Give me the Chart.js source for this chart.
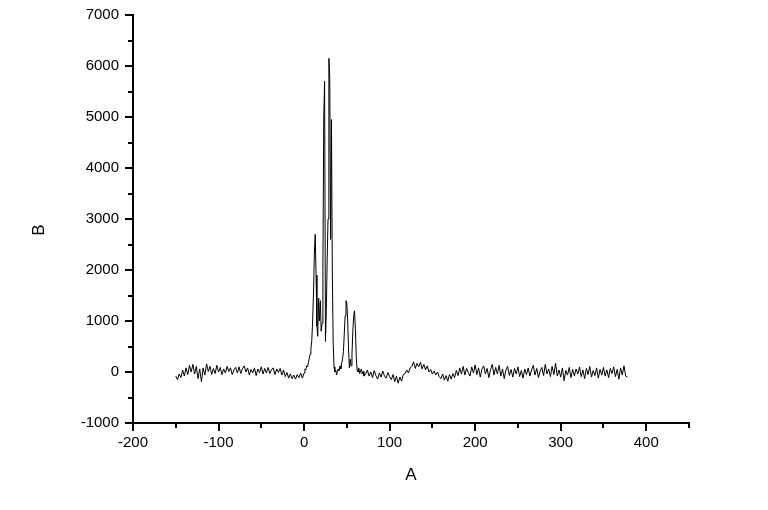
<!DOCTYPE html>
<html>
<head>
<meta charset="utf-8">
<script src="https://cdn.jsdelivr.net/npm/chart.js@4/dist/chart.umd.min.js"></script>
<style>
  html, body { margin: 0; padding: 0; background: #fff; }
  #myChart { display: block; }
</style>
</head>
<body>
<canvas id="myChart" width="768" height="510"></canvas>
<script>
// sampled spectrum, left side (-150 .. -2)
const xLeft = [
  -150,-148,-146,-144,-142,-140,-138,-136,-134,-132,-130,-128,-126,-124,-122,
  -120,-118,-116,-114,-112,-110,-108,-106,-104,-102,-100,-98,-96,-94,-92,
  -90,-88,-86,-84,-82,-80,-78,-76,-74,-72,-70,-68,-66,-64,-62,
  -60,-58,-56,-54,-52,-50,-48,-46,-44,-42,-40,-38,-36,-34,-32,
  -30,-28,-26,-24,-22,-20,-18,-16,-14,-12,-10,-8,-6,-4,-2
];
const bLeft = [
  -80,-150,-40,-110,40,-80,80,-50,130,0,150,-40,110,-130,60,
  -190,80,-60,160,10,110,-50,70,-30,130,0,90,-50,60,-20,
  110,10,80,-50,40,90,-20,100,-30,70,120,0,80,-60,50,
  -20,80,-70,60,-10,100,-40,70,-20,90,-30,50,80,-50,60,
  -10,70,-60,40,-90,-10,-120,-40,-130,-60,-140,-50,-110,-20,-120
];

// peak region (0 .. 70)
const xPeak = [
  0,1,2,3,4,5,6,7,8,9,10,11,12,13,14,15,16,17,18,19,20,
  21,22,23,24,25,26,27,28,29,30,31,32,33,34,35,36,37,38,39,40,
  41,42,43,44,45,46,47,48,49,50,51,52,53,54,55,56,57,58,59,60,
  61,62,63,64,65,66,67,68,69,70
];
const bPeak = [
  -20,60,40,120,100,180,260,350,450,620,1000,1550,2300,2700,1900,900,700,1450,1000,1400,800,
  950,2050,5000,5700,600,1200,2200,3000,6150,5800,2600,4950,2000,600,100,0,40,-60,20,60,
  20,120,60,180,260,400,750,1100,1400,1350,1000,450,80,250,120,350,800,1100,1200,850,
  300,40,0,80,-30,20,60,-40,10,-80
];

// right side (72 .. 378)
const xRight = [
  72,74,76,78,80,82,84,86,88,90,92,94,96,98,100,102,104,106,108,110,
  112,114,116,118,120,122,124,126,128,130,132,134,136,138,140,142,144,146,148,150,
  152,154,156,158,160,162,164,166,168,170,172,174,176,178,180,182,184,186,188,190,
  192,194,196,198,200,202,204,206,208,210,212,214,216,218,220,222,224,226,228,230,
  232,234,236,238,240,242,244,246,248,250,252,254,256,258,260,262,264,266,268,270,
  272,274,276,278,280,282,284,286,288,290,292,294,296,298,300,302,304,306,308,310,
  312,314,316,318,320,322,324,326,328,330,332,334,336,338,340,342,344,346,348,350,
  352,354,356,358,360,362,364,366,368,370,372,374,376,378
];
const bRight = [
  -40,40,-80,0,-110,30,-70,-140,-20,-100,20,-80,-120,-10,-90,-150,-50,-190,-80,-220,
  -100,-180,-50,-30,40,-20,80,110,200,70,170,100,190,60,150,40,120,0,50,-40,
  20,-60,0,-90,-130,-40,-160,-70,-180,-50,-140,-30,-110,30,-70,80,-40,110,-60,70,
  -10,-80,100,-20,140,-50,80,-100,60,120,-40,70,-110,50,150,-60,90,-40,130,-80,
  60,-130,40,110,-70,50,-100,70,-40,100,-90,30,-120,60,-50,80,-80,40,130,-60,
  70,-110,20,90,-70,150,-40,60,-90,110,-50,170,-80,40,-100,80,-170,30,-60,90,
  -110,50,-80,60,-40,100,-90,40,-130,70,-50,110,-100,30,-70,80,-120,50,-60,90,
  -80,40,-110,70,-30,100,-90,50,-140,80,-60,120,-80,-100
];

const xTicks = [-200, -100, 0, 100, 200, 300, 400];
const xMinor = [-150, -50, 50, 150, 250, 350, 450];
const yTicks = [-1000, 0, 1000, 2000, 3000, 4000, 5000, 6000, 7000];
const yMinor = [-500, 500, 1500, 2500, 3500, 4500, 5500, 6500];

const xAll = xLeft.concat(xPeak, xRight);
const bAll = bLeft.concat(bPeak, bRight);
const points = xAll.map((x, i) => ({ x: x, y: bAll[i] }));

const FONT = "'Liberation Sans', Arial, sans-serif";

// white page + minor ticks + rotated "B" title
const extras = {
  id: 'extras',
  beforeDraw(chart) {
    const ctx = chart.ctx;
    ctx.save();
    ctx.fillStyle = '#fff';
    ctx.fillRect(0, 0, chart.width, chart.height);
    ctx.restore();
  },
  afterDraw(chart) {
    const ctx = chart.ctx;
    const xs = chart.scales.x, ys = chart.scales.y;
    const area = chart.chartArea;
    ctx.save();
    ctx.strokeStyle = '#000';
    ctx.lineWidth = 2;
    ctx.beginPath();
    xMinor.forEach(v => {
      const p = Math.round(xs.getPixelForValue(v));
      ctx.moveTo(p, area.bottom);
      ctx.lineTo(p, area.bottom + 5);
    });
    yMinor.forEach(v => {
      const p = Math.round(ys.getPixelForValue(v));
      ctx.moveTo(area.left, p);
      ctx.lineTo(area.left - 5, p);
    });
    ctx.stroke();

    ctx.fillStyle = '#000';
    ctx.font = '17px ' + FONT;
    ctx.textAlign = 'center';
    ctx.textBaseline = 'middle';
    ctx.translate(39, 230);
    ctx.rotate(-Math.PI / 2);
    ctx.fillText('B', 0, 0);
    ctx.restore();
  }
};

const config = {
  type: 'line',
  data: {
    datasets: [{
      label: 'B',
      data: points,
      borderColor: '#000',
      borderWidth: 1,
      pointRadius: 0,
      tension: 0,
      fill: false
    }]
  },
  options: {
    responsive: false,
    animation: false,
    layout: { padding: { left: 0, right: 79, top: 14, bottom: 0 } },
    plugins: { legend: { display: false }, tooltip: { enabled: false } },
    scales: {
      x: {
        type: 'linear',
        min: -200,
        max: 450,
        afterBuildTicks: s => { s.ticks = xTicks.map(v => ({ value: v })); },
        afterFit: s => { s.height = 87; },
        grid: { drawOnChartArea: false, drawTicks: true, tickLength: 8, color: '#000', lineWidth: 2 },
        border: { display: true, color: '#000', width: 2 },
        ticks: {
          color: '#000',
          font: { family: FONT, size: 15 },
          padding: 3,
          maxRotation: 0,
          callback: v => String(v)
        },
        title: {
          display: true,
          text: 'A',
          color: '#000',
          font: { family: FONT, size: 17 },
          padding: { top: 4, bottom: 24 }
        }
      },
      y: {
        type: 'linear',
        min: -1000,
        max: 7000,
        afterBuildTicks: s => { s.ticks = yTicks.map(v => ({ value: v })); },
        afterFit: s => { s.width = 133; },
        grid: { drawOnChartArea: false, drawTicks: true, tickLength: 8, color: '#000', lineWidth: 2 },
        border: { display: true, color: '#000', width: 2 },
        ticks: {
          color: '#000',
          font: { family: FONT, size: 15 },
          padding: 6,
          callback: v => String(v)
        }
      }
    }
  },
  plugins: [extras]
};

const myChart = new Chart(document.getElementById('myChart'), config);
</script>
</body>
</html>
